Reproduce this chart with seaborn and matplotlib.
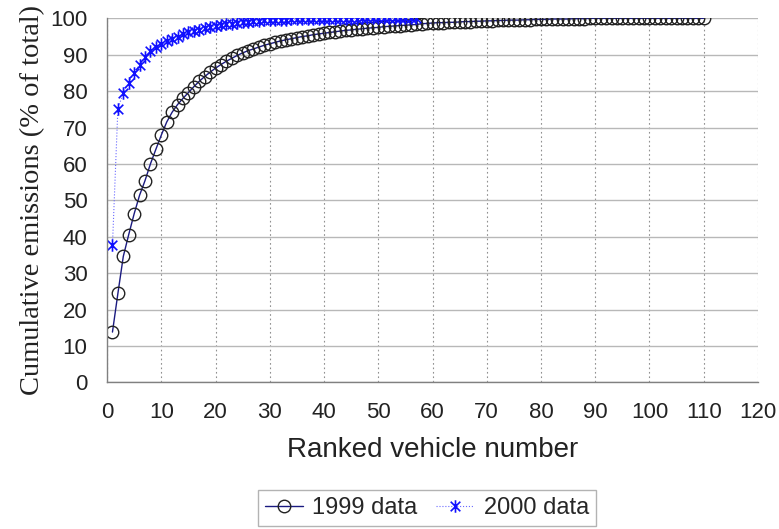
import seaborn as sns
import matplotlib.pyplot as plt
import matplotlib.path as mpath
import pandas as pd
import numpy as np

# cumulative emissions (% of total) by ranked vehicle
cum_1999 = [
    13.8, 24.4, 34.6, 40.6, 46.3, 51.4, 55.4, 60.0, 64.0, 67.9,
    71.5, 74.2, 76.3, 78.0, 79.6, 81.2, 82.7, 84.0, 85.2, 86.3,
    87.3, 88.2, 89.0, 89.8, 90.5, 91.1, 91.6, 92.1, 92.6, 93.0,
    93.4, 93.8, 94.1, 94.4, 94.7, 95.0, 95.2, 95.5, 95.7, 95.9,
    96.1, 96.3, 96.5, 96.7, 96.8, 97.0, 97.1, 97.3, 97.4, 97.5,
    97.7, 97.8, 97.9, 98.0, 98.1, 98.2, 98.3, 98.5, 98.6, 98.7,
    98.8, 98.8, 98.9, 98.9, 99.0, 99.1, 99.1, 99.2, 99.2, 99.3,
    99.3, 99.4, 99.4, 99.5, 99.5, 99.5, 99.6, 99.6, 99.7, 99.7,
    99.7, 99.8, 99.8, 99.8, 99.8, 99.9, 99.9, 99.9, 100.0, 100.0,
    100.0, 100.0, 100.0, 100.0, 100.0, 100.0, 100.0, 100.0, 100.0, 100.0,
    100.0, 100.0, 100.0, 100.0, 100.0, 100.0, 100.0, 100.0, 100.0, 100.0,
]
cum_2000 = [
    37.6, 75.2, 79.5, 82.3, 85.0, 87.3, 89.3, 90.9, 92.1, 93.0,
    93.8, 94.4, 95.0, 95.6, 96.1, 96.5, 96.9, 97.2, 97.5, 97.8,
    98.1, 98.3, 98.5, 98.7, 98.9, 99.0, 99.2, 99.3, 99.4, 99.5,
    99.5, 99.6, 99.6, 99.7, 99.7, 99.7, 99.8, 99.8, 99.8, 99.8,
    99.9, 99.9, 99.9, 99.9, 99.9, 99.9, 100.0, 100.0, 100.0, 100.0,
    100.0, 100.0, 100.0, 100.0, 100.0, 100.0, 100.0,
]
rank_1999 = np.arange(1, len(cum_1999) + 1)
rank_2000 = np.arange(1, len(cum_2000) + 1)

x_ticks = list(range(0, 121, 10))
y_ticks = list(range(0, 101, 10))

sns.set_style("white")
plt.rcParams["font.family"] = ["Liberation Sans", "DejaVu Sans"]

# excel-style star: an x with a vertical bar
star = mpath.Path(
    [(-1, -1), (1, 1), (-1, 1), (1, -1), (0, -1.3), (0, 1.3)],
    [mpath.Path.MOVETO, mpath.Path.LINETO, mpath.Path.MOVETO,
     mpath.Path.LINETO, mpath.Path.MOVETO, mpath.Path.LINETO],
)

fig = plt.figure(figsize=(7.79, 5.29), dpi=100)
ax = fig.add_axes([0.1374, 0.2773, 0.8356, 0.6881])

sns.lineplot(
    x=rank_1999, y=cum_1999, ax=ax, label="1999 data",
    color="#1a1a80", linewidth=1.0,
    marker="o", markersize=9, markerfacecolor="none",
    markeredgecolor="#222222", markeredgewidth=1.0,
)
sns.lineplot(
    x=rank_2000, y=cum_2000, ax=ax, label="2000 data",
    color="#6a6aff", linewidth=0.8, linestyle=":",
    marker=star, markersize=9, markerfacecolor="none",
    markeredgecolor="#1010ff", markeredgewidth=1.2,
)

ax.set_xlim(0, 120)
ax.set_ylim(0, 100)
ax.set_xticks(x_ticks)
ax.set_yticks(y_ticks)
ax.tick_params(axis="both", labelsize=16, labelcolor="#222222",
               color="#808080", length=5, width=0.8, direction="out", pad=9)

ax.yaxis.grid(True, color="#b8b8b8", linewidth=1.0, linestyle="-")
ax.xaxis.grid(True, color="#909090", linewidth=0.8, linestyle=(0, (1.5, 2.5)))
ax.set_axisbelow(True)

for side in ["top", "right"]:
    ax.spines[side].set_visible(False)
for side in ["left", "bottom"]:
    ax.spines[side].set_color("#808080")
    ax.spines[side].set_linewidth(1.0)

ax.set_xlabel("Ranked vehicle number", fontsize=20, color="#222222", labelpad=10)
ax.set_ylabel("Cumulative emissions (% of total)", fontsize=20.5,
              family=["Liberation Serif", "DejaVu Serif"], color="#222222",
              labelpad=4)

leg = ax.legend(
    loc="center", bbox_to_anchor=(0.548, 0.04), bbox_transform=fig.transFigure,
    ncol=2, fontsize=17, frameon=True, fancybox=False,
    handlelength=1.6, handletextpad=0.4, columnspacing=0.8,
    borderpad=0.3, borderaxespad=0,
)
leg.get_frame().set_edgecolor("#a0a0a0")
leg.get_frame().set_linewidth(1.0)

fig.savefig("out.png", dpi=100)
